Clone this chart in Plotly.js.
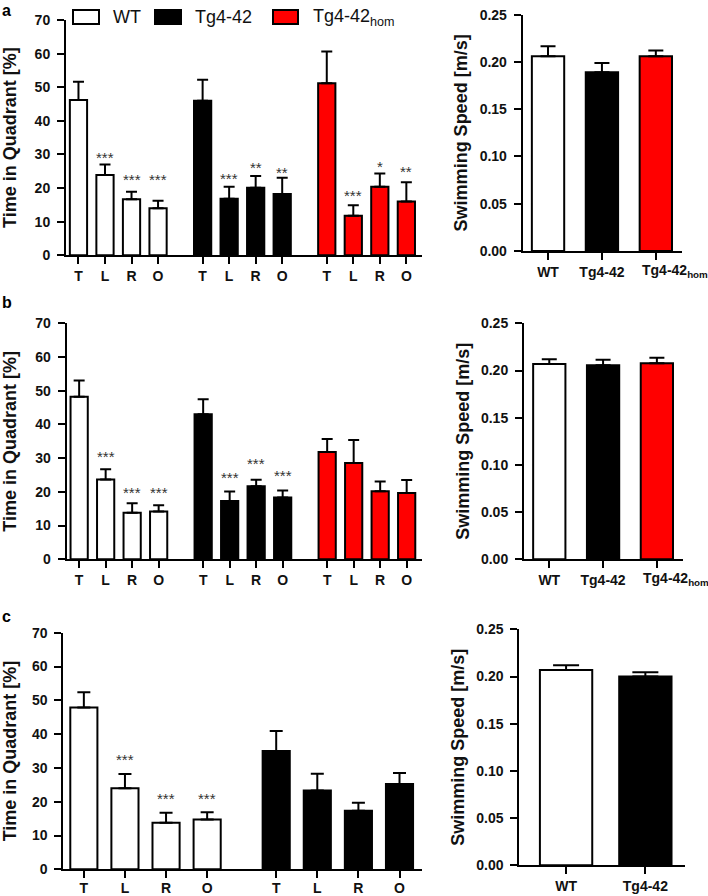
<!DOCTYPE html>
<html>
<head>
<meta charset="utf-8">
<script src="https://cdn.plot.ly/plotly-3.0.1.min.js"></script>
<style>
html,body{margin:0;padding:0;background:#fff;}
#chart{width:708px;height:896px;}
</style>
</head>
<body>
<div id="chart"></div>
<script>
// ---------- data ----------
const quadrants = ["T", "L", "R", "O"];
const groupNames = ["WT", "Tg4-42", "Tg4-42<sub>hom</sub>"];
const groupNamesC = ["WT", "Tg4-42"];

// panel a: time in quadrant (%)
const aWTMean  = [46.2, 23.9, 16.7, 14.0];
const aWTSem   = [5.4, 3.1, 2.2, 2.2];
const aTgMean  = [46.0, 16.8, 20.1, 18.2];
const aTgSem   = [6.2, 3.6, 3.5, 4.9];
const aHomMean = [51.2, 11.8, 20.4, 16.0];
const aHomSem  = [9.4, 3.1, 3.9, 5.7];
const aWTStars  = ["", "***", "***", "***"];
const aTgStars  = ["", "***", "**", "**"];
const aHomStars = ["", "***", "*", "**"];
const aWTStarY  = [null, 30.3, 23.7, 23.7];
const aTgStarY  = [null, 24.1, 27.4, 25.9];
const aHomStarY = [null, 19.0, 27.7, 26.1];
// panel a: swimming speed (m/s)
const aSpeedMean = [0.206, 0.189, 0.206];
const aSpeedSem  = [0.0105, 0.010, 0.006];

// panel b
const bWTMean  = [48.2, 23.7, 13.8, 14.2];
const bWTSem   = [4.8, 3.0, 2.8, 1.8];
const bTgMean  = [43.0, 17.3, 21.7, 18.3];
const bTgSem   = [4.5, 2.8, 1.9, 2.1];
const bHomMean = [31.8, 28.6, 20.2, 19.7];
const bHomSem  = [3.9, 6.8, 2.9, 3.8];
const bWTStars  = ["", "***", "***", "***"];
const bTgStars  = ["", "***", "***", "***"];
const bHomStars = ["", "", "", ""];
const bWTStarY  = [null, 31.6, 21.0, 21.0];
const bTgStarY  = [null, 25.3, 29.5, 26.0];
const bHomStarY = [null, null, null, null];
const bSpeedMean = [0.207, 0.2055, 0.2076];
const bSpeedSem  = [0.005, 0.006, 0.006];

// panel c
const cWTMean = [47.9, 24.0, 13.8, 14.7];
const cWTSem  = [4.5, 4.2, 2.9, 2.2];
const cTgMean = [35.0, 23.3, 17.3, 25.2];
const cTgSem  = [5.9, 5.0, 2.4, 3.3];
const cWTStars = ["", "***", "***", "***"];
const cTgStars = ["", "", "", ""];
const cWTStarY = [null, 33.8, 22.0, 22.0];
const cTgStarY = [null, null, null, null];
const cSpeedMean = [0.207, 0.1999];
const cSpeedSem  = [0.005, 0.0045];

// ---------- styling / layout helpers ----------
const W = 708, H = 896;
const FONT = "Liberation Sans, Arial, sans-serif";
const fills = ["#ffffff", "#000000", "#ff0000"];
const GROUP_STEP = 4.68;

function xd(x0, x1) { return [x0 / W, x1 / W]; }
function yd(yBottom, yTop) { return [1 - yBottom / H, 1 - yTop / H]; }

const traces = [];
const annotations = [];
const tickFont = {family: FONT, size: 14, color: "#111", weight: "bold"};
const titleFont = {family: FONT, size: 18, color: "#111", weight: "bold"};

function quadrantPanel(ax, means, sems, stars, starYs, barWidth, capW) {
  const tickvals = [], ticktext = [];
  means.forEach((m, g) => {
    const xs = quadrants.map((q, i) => g * GROUP_STEP + i);
    xs.forEach((x, i) => { tickvals.push(x); ticktext.push(quadrants[i]); });
    traces.push({
      type: "bar", x: xs, y: m,
      xaxis: "x" + ax, yaxis: "y" + ax,
      width: barWidth,
      marker: {color: fills[g], line: {color: "#000", width: 2}},
      error_y: {type: "data", array: sems[g], arrayminus: m.map(() => 0), symmetric: false,
                color: "#000", thickness: 2, width: capW},
      showlegend: false, hoverinfo: "skip"
    });
    stars[g].forEach((s, i) => {
      if (s) annotations.push({
        xref: "x" + ax, yref: "y" + ax, x: xs[i], y: starYs[g][i], text: s,
        showarrow: false, yanchor: "middle", yshift: -4,
        font: {family: FONT, size: 15, color: "#333"}
      });
    });
  });
  return {tickvals, ticktext};
}

function speedPanel(ax, means, sems, names, barWidth, capW) {
  const xs = names.map((n, i) => i);
  traces.push({
    type: "bar", x: xs, y: means,
    xaxis: "x" + ax, yaxis: "y" + ax, width: barWidth,
    marker: {color: fills.slice(0, means.length), line: {color: "#000", width: 2}},
    error_y: {type: "data", array: sems, arrayminus: means.map(() => 0), symmetric: false,
              color: "#000", thickness: 2, width: capW},
    showlegend: false, hoverinfo: "skip"
  });
  // labels with a subscript are placed with their main text centred under the bar
  const labels = names.map((n, i) => {
    if (!n.includes("<sub>")) return n;
    annotations.push({xref: "x" + ax, yref: "y" + ax + " domain", x: xs[i], y: 0,
      xanchor: "left", yanchor: "top", xshift: -16, yshift: -9, showarrow: false,
      text: n, font: tickFont});
    return "";
  });
  return {tickvals: xs, ticktext: labels};
}

const ta = quadrantPanel("", [aWTMean, aTgMean, aHomMean], [aWTSem, aTgSem, aHomSem],
  [aWTStars, aTgStars, aHomStars], [aWTStarY, aTgStarY, aHomStarY], 0.65, 5.5);
const tb = quadrantPanel("3", [bWTMean, bTgMean, bHomMean], [bWTSem, bTgSem, bHomSem],
  [bWTStars, bTgStars, bHomStars], [bWTStarY, bTgStarY, bHomStarY], 0.65, 5.5);
const tc = quadrantPanel("5", [cWTMean, cTgMean], [cWTSem, cTgSem],
  [cWTStars, cTgStars], [cWTStarY, cTgStarY], 0.66, 6.5);
const sa = speedPanel("2", aSpeedMean, aSpeedSem, groupNames, 0.6, 7.5);
const sb = speedPanel("4", bSpeedMean, bSpeedSem, groupNames, 0.6, 7.5);
const sc = speedPanel("6", cSpeedMean, cSpeedSem, groupNamesC, 0.66, 13);

function xAxis(domain, range, t, anchor, standoff) {
  return {domain, range, anchor, tickvals: t.tickvals, ticktext: t.ticktext,
    tickangle: 0, ticklabelstandoff: standoff || 0,
    showline: true, linewidth: 2, linecolor: "#000", ticks: "outside", ticklen: 7, tickwidth: 2,
    tickcolor: "#000", showgrid: false, zeroline: false, tickfont: tickFont, fixedrange: true};
}
function yAxis(domain, range, dtick, fmt, title, anchor, standoff) {
  return {domain, range, anchor, dtick, tick0: 0, tickformat: fmt,
    showline: true, linewidth: 2, linecolor: "#000", ticks: "outside", ticklen: 7, tickwidth: 2,
    tickcolor: "#000", showgrid: false, zeroline: false, tickfont: tickFont,
    ticklabelstandoff: 4,
    title: {text: title, font: titleFont, standoff: standoff}, fixedrange: true};
}
const yT = "Time in Quadrant [%]", yS = "Swimming Speed [m/s]";

// legend (drawn as shapes + text)
const shapes = [];
const legendItems = [
  {x0: 73, x1: 99, tx: 111, text: "WT", fill: fills[0]},
  {x0: 155, x1: 181, tx: 193, text: "Tg4-42", fill: fills[1]},
  {x0: 273, x1: 298, tx: 311, text: "Tg4-42<sub>hom</sub>", fill: fills[2]}
];
legendItems.forEach(it => {
  shapes.push({type: "rect", xref: "paper", yref: "paper",
    x0: it.x0 / W, x1: it.x1 / W, y0: 1 - 24 / H, y1: 1 - 10 / H,
    fillcolor: it.fill, line: {color: "#000", width: 2}});
  annotations.push({xref: "paper", yref: "paper", x: it.tx / W, y: 1 - 17 / H,
    xanchor: "left", yanchor: "middle", showarrow: false, text: it.text,
    font: {family: FONT, size: 18, color: "#111"}});
});
[["a", 0], ["b", 292], ["c", 606]].forEach(([l, y]) => {
  annotations.push({xref: "paper", yref: "paper", x: 0, y: 1 - y / H,
    xanchor: "left", yanchor: "top", showarrow: false, text: l,
    font: {family: FONT, size: 16, color: "#000", weight: "bold"}});
});

const layout = {
  width: W, height: H, margin: {l: 0, r: 0, t: 0, b: 0},
  paper_bgcolor: "#fff", plot_bgcolor: "rgba(0,0,0,0)",
  font: {family: FONT}, showlegend: false, bargap: 0,
  xaxis:  xAxis(xd(66, 422), [-0.47, 12.95], ta, "y"),
  yaxis:  yAxis(yd(255.3, 20), [0, 70], 10, "d", yT, "x", 17),
  xaxis2: xAxis(xd(522.7, 681.7), [-0.47, 2.48], sa, "y2"),
  yaxis2: yAxis(yd(251, 14.7), [0, 0.25], 0.05, ".2f", yS, "x2", 7),
  xaxis3: xAxis(xd(66.7, 422.3), [-0.47, 12.95], tb, "y3"),
  yaxis3: yAxis(yd(559.3, 323.3), [0, 70], 10, "d", yT, "x3", 17),
  xaxis4: xAxis(xd(524, 682.7), [-0.47, 2.48], sb, "y4"),
  yaxis4: yAxis(yd(559.3, 323.3), [0, 0.25], 0.05, ".2f", yS, "x4", 7),
  xaxis5: xAxis(xd(63.3, 421.7), [-0.5, 8.22], tc, "y5", -2),
  yaxis5: yAxis(yd(869.3, 632.7), [0, 70], 10, "d", yT, "x5", 17),
  xaxis6: xAxis(xd(519.3, 685), [-0.59, 1.5], sc, "y6"),
  yaxis6: yAxis(yd(865.3, 629.3), [0, 0.25], 0.05, ".2f", yS, "x6", 7),
  shapes, annotations
};

Plotly.newPlot("chart", traces, layout, {displayModeBar: false, staticPlot: true});
</script>
</body>
</html>
